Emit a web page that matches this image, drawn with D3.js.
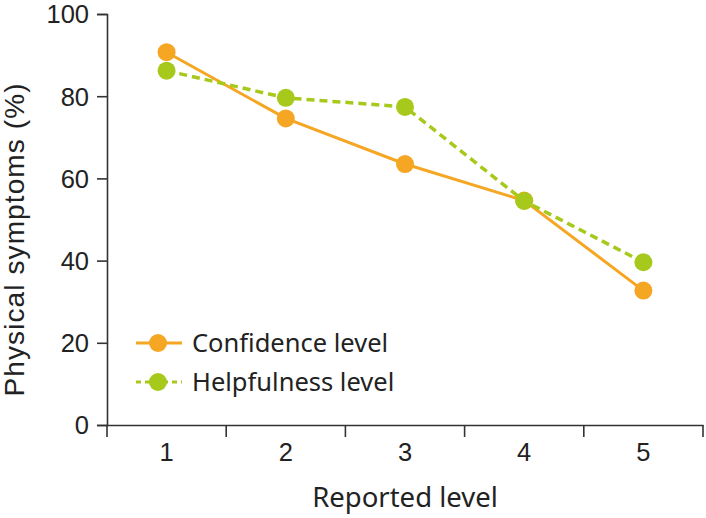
<!DOCTYPE html>
<html><head><meta charset="utf-8">
<script src="https://cdn.jsdelivr.net/npm/d3@7"></script>
<style>body{margin:0;background:#fff}svg{display:block}</style>
</head><body>
<svg id="c" width="706" height="518"></svg>
<script>
const categories = ["1","2","3","4","5"];
const confidence = [90.7, 74.6, 63.5, 54.6, 32.7];
const helpfulness = [86.2, 79.6, 77.4, 54.5, 39.6];
const yTicks = [0, 20, 40, 60, 80, 100];
const seriesNames = ["Confidence level", "Helpfulness level"];

(function(){
const svg = d3.select("#c");
const mL = 107, mR = 703, mT = 14, mB = 425;
const x = d3.scaleBand().domain(categories).range([mL, mR]).padding(0);
const y = d3.scaleLinear().domain([0, 100]).range([mB, mT]);
const axisColor = "#333";
const orange = "#F5A623", green = "#A6C91C";
const tickFont = "'Liberation Sans', Arial, sans-serif";
const labFont = "'Noto Sans', sans-serif";

// Y axis
const ya = svg.append("g").attr("transform", `translate(${mL},0)`)
  .call(d3.axisLeft(y).tickValues(yTicks).tickSize(10).tickPadding(8));
ya.select(".domain").attr("stroke", axisColor).attr("stroke-width", 1.6);
ya.selectAll(".tick line").attr("stroke", axisColor).attr("stroke-width", 1.6);
ya.selectAll(".tick text").attr("font-family", tickFont).attr("font-size", 25.5).attr("fill", "#222").attr("dy", "0.35em");

// X axis
const xa = svg.append("g").attr("transform", `translate(0,${mB})`)
  .call(d3.axisBottom(x).tickSize(0).tickPadding(18));
xa.select(".domain").attr("stroke", axisColor).attr("stroke-width", 1.6);
xa.selectAll(".tick text").attr("font-family", tickFont).attr("font-size", 25.5).attr("fill", "#222");
const bounds = categories.map(c => x(c)).concat([x(categories[categories.length-1]) + x.bandwidth()]);
xa.selectAll(".bt").data(bounds).join("line").attr("class","bt")
  .attr("x1", d => d).attr("x2", d => d).attr("y1", 0).attr("y2", 12)
  .attr("stroke", axisColor).attr("stroke-width", 1.6);

// titles
svg.append("text").attr("x", 405).attr("y", 507).attr("text-anchor","middle")
  .attr("font-family", labFont).attr("font-size", 27.5).attr("fill","#222").text("Reported level");
svg.append("text").attr("transform", `translate(24,240) rotate(-90)`).attr("text-anchor","middle")
  .attr("font-family", tickFont).attr("font-size", 28).attr("fill","#222")
  .attr("textLength", 313).attr("lengthAdjust","spacing").text("Physical symptoms (%)");

const cx = (d,i) => x(categories[i]) + x.bandwidth()/2;
const line = d3.line().x((d,i) => cx(d,i)).y(d => y(d));

svg.append("path").datum(confidence).attr("d", line).attr("fill","none")
  .attr("stroke", orange).attr("stroke-width", 3);
svg.selectAll(".pc").data(confidence).join("circle").attr("class","pc")
  .attr("cx", cx).attr("cy", d => y(d)).attr("r", 9).attr("fill", orange);
svg.append("path").datum(helpfulness).attr("d", line).attr("fill","none")
  .attr("stroke", green).attr("stroke-width", 3.5).attr("stroke-dasharray","8,5");
svg.selectAll(".ph").data(helpfulness).join("circle").attr("class","ph")
  .attr("cx", cx).attr("cy", d => y(d)).attr("r", 9).attr("fill", green);

// Legend
const lg = svg.append("g");
const legendItems = [{name: seriesNames[0], color: orange, dash: null, w: 3},
                     {name: seriesNames[1], color: green, dash: "5,4", w: 3}];
legendItems.forEach((it, i) => {
  const ly = 343 + i*39;
  lg.append("line").attr("x1",136).attr("x2",182).attr("y1",ly).attr("y2",ly)
    .attr("stroke", it.color).attr("stroke-width", it.w).attr("stroke-dasharray", it.dash);
  lg.append("circle").attr("cx",158).attr("cy",ly).attr("r",9).attr("fill",it.color);
  lg.append("text").attr("x",192).attr("y",ly).attr("dy","0.35em")
    .attr("font-family", labFont).attr("font-size", 25.5).attr("fill","#222").text(it.name);
});
})();
</script>
</body></html>
